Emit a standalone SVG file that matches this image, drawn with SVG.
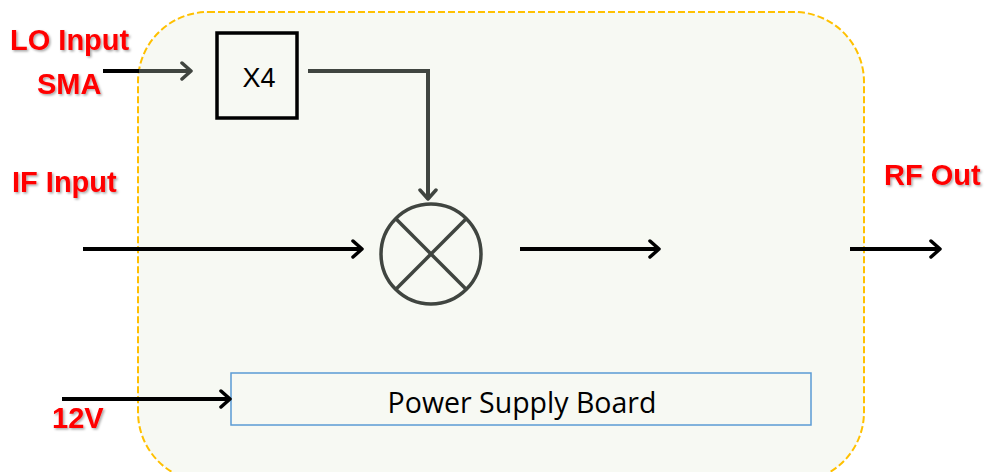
<svg xmlns="http://www.w3.org/2000/svg" width="987" height="472" viewBox="0 0 987 472">
<defs>
<marker id="ab" markerWidth="13" markerHeight="20" refX="11" refY="10" orient="auto" markerUnits="userSpaceOnUse" viewBox="0 0 13 20">
<path d="M2,2 L11,10 L2,18" fill="none" stroke="#000" stroke-width="3.5" stroke-linecap="round" stroke-linejoin="round"/>
</marker>
<marker id="ag" markerWidth="13" markerHeight="20" refX="11" refY="10" orient="auto" markerUnits="userSpaceOnUse" viewBox="0 0 13 20">
<path d="M2,2 L11,10 L2,18" fill="none" stroke="#404540" stroke-width="3.5" stroke-linecap="round" stroke-linejoin="round"/>
</marker>
<filter id="sh" x="-10%" y="-20%" width="130%" height="150%">
<feDropShadow dx="1.5" dy="1.5" stdDeviation="1" flood-color="#000" flood-opacity="0.35"/>
</filter>
</defs>
<style>
.lbl{font-family:"Liberation Sans",Arial,sans-serif;font-weight:bold;font-size:29px;fill:#FF0000;filter:url(#sh)}
.blk{stroke:#000;stroke-width:4;fill:none}
.gry{stroke:#404540;stroke-width:4;fill:none}
</style>
<rect width="987" height="472" fill="#fff"/>
<g id="enclosure">
<rect x="138" y="12" width="726" height="470" rx="70" ry="70" fill="#F7F9F3" stroke="#FFC000" stroke-width="2" stroke-dasharray="7,3"/>
</g>
<g id="x4">
<rect x="217" y="33" width="80" height="85" fill="#F7F9F3" stroke="#000" stroke-width="3.5"/>
<text x="259" y="87" font-family="Liberation Sans,Arial,sans-serif" font-size="27" text-anchor="middle" fill="#000">X4</text>
</g>
<g id="mixer">
<circle cx="431" cy="254" r="50" fill="#F7F9F3" stroke="#404540" stroke-width="3.5"/>
<line x1="395.6" y1="218.6" x2="466.4" y2="289.4" stroke="#404540" stroke-width="3.5"/>
<line x1="466.4" y1="218.6" x2="395.6" y2="289.4" stroke="#404540" stroke-width="3.5"/>
</g>
<g id="psu">
<rect x="231" y="373" width="580" height="52" fill="#F7F9F3" stroke="#5B9BD5" stroke-width="1.5"/>
<text x="522" y="413" font-family="Open Sans,Noto Sans,sans-serif" font-size="28.5" text-anchor="middle" fill="#000">Power Supply Board</text>
</g>
<g id="labels">
<text class="lbl" x="10" y="50">LO Input</text>
<text class="lbl" x="37" y="94">SMA</text>
<text class="lbl" x="12" y="192">IF Input</text>
<text class="lbl" x="884" y="185">RF Out</text>
<text class="lbl" x="52" y="428">12V</text>
</g>
<g id="connectors">
<line class="blk" x1="103" y1="71" x2="139" y2="71"/>
<line class="gry" x1="139" y1="71" x2="191" y2="71" marker-end="url(#ag)"/>
<polyline class="gry" points="308,71 428,71 428,199" marker-end="url(#ag)"/>
<line class="blk" x1="83" y1="249" x2="362" y2="249" marker-end="url(#ab)"/>
<line class="blk" x1="520" y1="249" x2="659" y2="249" marker-end="url(#ab)"/>
<line class="blk" x1="850" y1="249" x2="940" y2="249" marker-end="url(#ab)"/>
<line class="blk" x1="62" y1="399" x2="230" y2="399" marker-end="url(#ab)"/>
</g>
</svg>
